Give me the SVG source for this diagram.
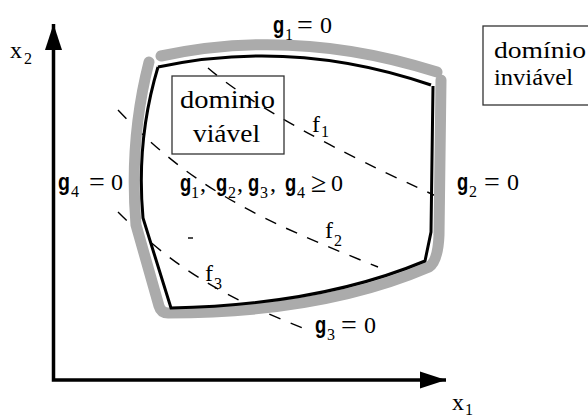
<svg xmlns="http://www.w3.org/2000/svg" width="588" height="418" viewBox="0 0 588 418">
<defs>
<style>
.ax{fill:none;stroke:#000;stroke-width:3.5}
.band{fill:none;stroke:#ababab;stroke-width:11;stroke-linecap:round;stroke-linejoin:round}
.edge{fill:none;stroke:#000;stroke-width:3;stroke-linejoin:miter}
.dash{fill:none;stroke:#000;stroke-width:1.4;stroke-dasharray:12 11}
.box{fill:none;stroke:#333;stroke-width:1.3}
.t{font-size:24px;fill:#000}
.eq{font-size:28px;fill:#000}
.s{font-size:16px;fill:#000}
.g{font-family:Liberation Sans,Arial,sans-serif;font-weight:bold;font-size:23px;fill:#000}
.bx{font-size:26px;fill:#000}
.bx2{font-size:24px;fill:#000}
</style>
<marker id="arr" markerUnits="userSpaceOnUse" markerWidth="27" markerHeight="18" viewBox="0 0 27 18" refX="26" refY="9" orient="auto-start-reverse">
<path d="M0,0.5 L26,9 L0,17.5 Z" fill="#000"/>
</marker>
</defs>

<g font-family="Liberation Serif, Times New Roman, serif">
<g id="axes">
<path class="ax" d="M53.5,24 L53.5,380 L446,380" marker-start="url(#arr)" marker-end="url(#arr)"/>
<text class="t" x="10" y="58">x</text><text class="s" x="24" y="64">2</text>
<text class="t" x="452" y="410">x</text><text class="s" x="465" y="415">1</text>
</g>

<g id="connectors">
<path id="f1-line" class="dash" d="M208,68 Q271,122 445,200"/>
<path id="f2-line" class="dash" d="M118,110 C193,189 258,219 378,267"/>
<path id="f3-line" class="dash" d="M118,212 C172,266 219,295 305,329"/>
<path class="dash" d="M188,238 L193,238" style="stroke-dasharray:none"/>
</g>

<g id="boundary">
<path class="band" d="M161,56 Q296,27 437,72"/>
<path class="band" d="M441,80 L439,235 Q438,261 429,267 Q322,313 168,313 Q161,313 159,306 L136,225 Q129,140 149,62"/>
<path class="edge" d="M158,67 Q294,38 431,85 M433,86 L431,232 L425,261 Q320,305 171,308 L143,218 Q136,140 158,67"/>
</g>

<g id="feasible-box">
<rect class="box" x="172" y="76" width="112" height="78"/>
<text class="bx" x="180" y="108" textLength="95" lengthAdjust="spacingAndGlyphs">dominio</text>
<text class="bx" x="193" y="142" textLength="67" lengthAdjust="spacingAndGlyphs">viável</text>
</g>

<g id="infeasible-box">
<rect class="box" x="483" y="26" width="110" height="79"/>
<text class="bx2" x="494" y="58" textLength="92" lengthAdjust="spacingAndGlyphs">domínio</text>
<text class="bx2" x="494" y="85" textLength="79" lengthAdjust="spacingAndGlyphs">inviável</text>
</g>

<g id="label-g1">
<text class="g" transform="translate(273,33) scale(0.8,1)">g</text><text class="s" x="285" y="40">1</text>
<text class="eq" x="297" y="34">=</text><text class="t" x="320" y="33">0</text>
</g>
<g id="label-g2">
<text class="g" transform="translate(457,190) scale(0.8,1)">g</text><text class="s" x="469" y="197">2</text>
<text class="eq" x="484" y="191">=</text><text class="t" x="507" y="190">0</text>
</g>
<g id="label-g3">
<text class="g" transform="translate(315,333) scale(0.8,1)">g</text><text class="s" x="327" y="340">3</text>
<text class="eq" x="341" y="334">=</text><text class="t" x="364" y="333">0</text>
</g>
<g id="label-g4">
<text class="g" transform="translate(58,190) scale(0.85,1)">g</text><text class="s" x="71" y="197">4</text>
<text class="eq" x="89" y="191">=</text><text class="t" x="111" y="190">0</text>
</g>
<g id="label-constraints">
<text class="g" transform="translate(180,191) scale(0.8,1)">g</text><text class="s" x="191" y="198">1</text><text class="t" x="200" y="191">,</text>
<text class="g" transform="translate(216,191) scale(0.8,1)">g</text><text class="s" x="228" y="198">2</text><text class="t" x="237" y="191">,</text>
<text class="g" transform="translate(248,191) scale(0.8,1)">g</text><text class="s" x="260" y="198">3</text><text class="t" x="270" y="191">,</text>
<text class="g" transform="translate(285,191) scale(0.8,1)">g</text><text class="s" x="297" y="198">4</text>
<text class="eq" x="311" y="192">≥</text><text class="t" x="331" y="191">0</text>
</g>
<g id="label-f1"><text class="t" x="312" y="132">f</text><text class="s" x="321" y="137">1</text></g>
<g id="label-f2"><text class="t" x="325" y="238">f</text><text class="s" x="334" y="246">2</text></g>
<g id="label-f3"><text class="t" x="205" y="281">f</text><text class="s" x="214" y="289">3</text></g>
</g>
</svg>
